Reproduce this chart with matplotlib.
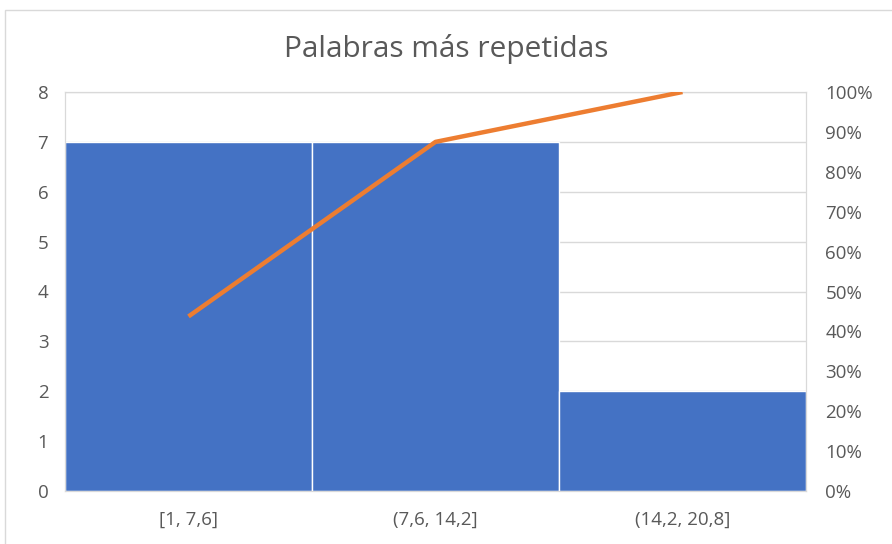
import matplotlib.pyplot as plt
from matplotlib.patches import Rectangle
from matplotlib.ticker import FuncFormatter

bins = ['[1, 7,6]', '(7,6, 14,2]', '(14,2, 20,8]']
counts = [7, 7, 2]
cum_pct = [43.75, 87.5, 100.0]

plt.rc('font', family=['Open Sans', 'DejaVu Sans'])
text_col = '#595959'
grid_col = '#d9d9d9'

fig = plt.figure(figsize=(8.92, 5.44), dpi=100)
fig.patches.append(Rectangle((5 / 892, -0.1), 1.2, 1.1 - 10 / 544,
                             transform=fig.transFigure, fill=False,
                             edgecolor='#d9d9d9', linewidth=1.0))

ax = fig.add_axes([65 / 892, 53 / 544, 741 / 892, 399 / 544])
x = list(range(len(bins)))
ax.bar(x, counts, width=1.0, color='#4472C4', edgecolor='white',
       linewidth=1.0, zorder=2)
ax.set_xlim(-0.5, len(bins) - 0.5)
ax.set_ylim(0, 8)
ax.set_yticks(range(0, 9))
ax.grid(axis='y', color=grid_col, linewidth=1.0, zorder=0)
ax.set_xticks(x)
ax.set_xticklabels(bins)
ax.tick_params(axis='both', length=0, colors=text_col, labelsize=13.5)
ax.tick_params(axis='x', pad=14)
ax.tick_params(axis='y', pad=12)
for s in ax.spines.values():
    s.set_color(grid_col)

ax2 = ax.twinx()
ax2.plot(x, cum_pct, color='#ED7D31', linewidth=3.2, solid_capstyle='butt', zorder=3)
ax2.set_ylim(0, 100)
ax2.set_yticks(range(0, 101, 10))
ax2.yaxis.set_major_formatter(FuncFormatter(lambda v, p: f'{v:.0f}%'))
ax2.tick_params(axis='y', length=0, colors=text_col, labelsize=13.5, pad=14)
for s in ax2.spines.values():
    s.set_color(grid_col)

fig.text(0.5, 0.91, 'Palabras más repetidas', ha='center', va='center',
         fontsize=21.5, color=text_col)

fig.savefig('out.png', dpi=100)
